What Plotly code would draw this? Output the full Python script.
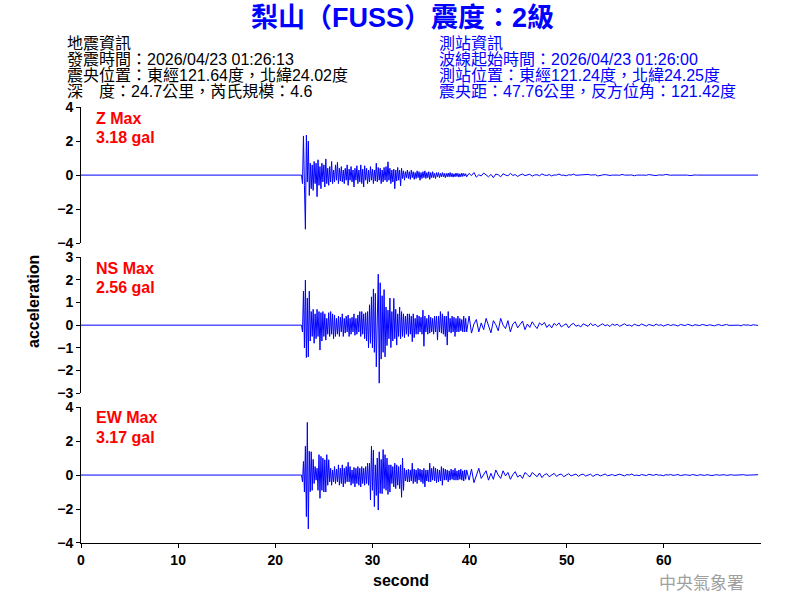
import plotly.graph_objects as go

# ---------------- data ----------------
pre_event_t = [0.0, 22.7]      # s, quiet record before the P arrival
pre_event_v = [0.0, 0.0]
onset_time = 22.8              # s, first sample of the strong part
strong_dt = 0.1                # s
tail_dt = 0.25                 # s
x_end = 70

z_strong = [
    -0.5, 2.3, -0.6, -3.18, 2.35, -0.4, 2.0, -1.2, 0.7, -0.8,
    0.6, -0.9, 0.8, -0.5, 0.7, -1.27, 0.9, -0.6, 0.5, -0.8,
    0.7, -0.4, 0.6, -0.7, 0.95, -0.5, 0.4, -0.6, 0.5, -0.4,
    0.8, -0.5, 0.3, -0.4, 0.6, -0.3, 0.75, -0.5, 0.4, -0.35,
    0.5, -0.4, 0.3, -0.5, 0.4, -0.3, 0.6, -0.6, 0.35, -0.3,
    0.5, -0.4, 0.3, -0.7, 0.4, -0.3, 0.55, -0.5, 0.3, -0.4,
    0.6, -0.5, 0.35, -0.7, 0.55, -0.3, 0.4, -0.5, 0.3, -0.4,
    0.5, -0.3, 0.35, -0.5, 0.3, -0.35, 0.7, -0.4, 0.45, -0.3,
    0.4, -0.5, 0.3, -0.4, 0.45, -0.3, 0.5, -0.4, 0.78, -0.3,
    0.4, -0.5, 0.3, -0.4, 0.35, -0.8, 0.3, -0.35, 0.45, -0.3,
    0.3, -0.63, 0.4, -0.2, 0.25, -0.3, 0.2, -0.15, 0.3, -0.2,
    0.2, -0.25, 0.3, -0.15, 0.2, -0.25, 0.15, -0.2, 0.25, -0.15,
    0.2, -0.3, 0.15, -0.2, 0.2, -0.15, 0.25, -0.2, 0.15, -0.15,
    0.2, -0.25, 0.15, -0.15, 0.2, -0.15, 0.1, -0.2, 0.15, -0.1,
    0.15, -0.15, 0.1, -0.1, 0.15, -0.1, 0.1, -0.15, 0.1, -0.1,
    0.12, -0.1, 0.15, -0.1, 0.1, -0.12, 0.08, -0.1, 0.12, -0.08,
    0.1, -0.12, 0.08, -0.1, 0.12, -0.08, 0.1, -0.06, 0.08, -0.1,
]
z_tail = [
    0.1, -0.03, 0.15, -0.12, 0.02, -0.05, 0.12, 0.0, -0.1, 0.04, -0.15, 0.06,
    0.02, -0.1, 0.08, 0.0, -0.04, 0.1, -0.02, 0.03, -0.08, 0.01, 0.06, -0.03,
    0.0, 0.05, -0.06, 0.01, 0.02, -0.04, 0.07, 0.0, -0.02, 0.03, -0.05, 0.01,
    0.0, 0.06, -0.01, 0.0, -0.04, 0.02, 0.0, 0.05, -0.01, 0.0, -0.03, 0.01,
    0.0, 0.04, 0.0, -0.01, 0.02, -0.05, 0.0, 0.01, 0.03, 0.0, -0.02, 0.0,
    0.02, 0.0, -0.01, 0.04, 0.0, -0.02, 0.0, 0.01, -0.04, 0.0, 0.02, 0.0,
    0.0, -0.01, 0.03, 0.0, 0.0, -0.03, 0.01, 0.0, 0.0, 0.04, 0.0, -0.01,
    0.0, 0.0, 0.02, 0.0, -0.01, 0.0, 0.0, -0.03, 0.0, 0.01, 0.0, 0.0,
    0.0, 0.01, 0.0, 0.0, -0.01, 0.0, 0.0, 0.0, 0.02, 0.0, 0.0, -0.01,
    0.0, 0.0, 0.0, 0.01, 0.0, 0.0, -0.01, 0.0, 0.0, 0.0, 0.0, 0.0,
]

ns_strong = [
    -0.3, 1.5, -1.0, 1.99, -1.43, 1.2, -1.4, 1.5, -0.7, 0.6,
    -0.5, 0.7, -0.8, 0.5, -0.6, 0.7, -0.5, 0.6, -1.1, 0.55,
    -0.7, 0.6, -0.5, 0.5, -0.66, 0.3, -0.4, 0.55, -0.5, 0.6,
    -0.4, 0.5, -0.6, 0.45, -0.5, 0.3, -0.4, 0.4, -0.5, 0.35,
    -0.3, 0.5, -0.5, 0.3, -0.35, 0.4, -0.3, 0.45, -0.5, 0.3,
    -0.4, 0.35, -0.3, 0.5, -0.45, 0.3, -0.4, 0.45, -0.3, 0.6,
    -0.5, 0.6, -0.4, 0.5, -0.6, 0.55, -0.7, 0.6, -1.0, 0.9,
    -0.8, 1.25, -1.0, 1.6, -1.2, 1.4, -1.84, 1.5, 2.25, -2.56,
    1.87, -1.5, 1.3, -1.2, 1.57, -1.4, 0.8, -0.9, 0.66, -0.6,
    1.2, -0.99, 0.6, -0.7, 1.18, -0.6, 0.7, -0.88, 0.5, -0.5,
    0.8, -0.6, 0.6, -0.5, 0.5, -0.55, 0.4, -0.4, 0.5, -0.5,
    0.5, -0.4, 0.4, -0.73, 0.5, -0.55, 0.3, -0.4, 0.45, -0.4,
    0.4, -0.3, 0.35, -0.4, 0.66, -0.93, 0.4, -0.3, 0.3, -0.4,
    0.45, -0.35, 0.35, -0.3, 0.3, -0.4, 0.4, -0.3, 0.4, -0.66,
    0.4, -0.3, 0.6, -0.35, 0.5, -0.4, 0.4, -0.5, 0.4, -0.88,
    0.6, -0.3, 0.3, -0.35, 0.4, -0.3, 0.35, -0.5, 0.3, -0.3,
    0.4, -0.3, 0.3, -0.25, 0.25, -0.3, 0.4, -0.3, 0.3, -0.3,
]
ns_tail = [
    0.4, -0.35, 0.05, 0.25, -0.3, 0.1, -0.2, 0.3, -0.05, -0.34, 0.2, 0.02,
    -0.25, 0.3, 0.0, -0.15, 0.2, -0.3, 0.05, 0.15, -0.12, 0.02, 0.18, -0.2,
    0.05, -0.1, 0.15, -0.02, -0.15, 0.1, 0.0, 0.12, -0.1, 0.03, -0.12, 0.08,
    -0.02, 0.1, -0.08, 0.0, 0.06, -0.12, 0.02, 0.08, -0.05, 0.0, -0.08, 0.06,
    0.0, -0.05, 0.08, -0.02, 0.04, -0.07, 0.0, 0.06, -0.03, 0.02, -0.06, 0.05,
    -0.01, 0.04, -0.05, 0.0, 0.06, -0.02, 0.01, -0.05, 0.04, 0.0, -0.03, 0.05,
    0.0, -0.04, 0.03, 0.0, -0.03, 0.05, -0.01, 0.02, -0.04, 0.0, 0.03, -0.02,
    0.02, 0.0, -0.04, 0.03, 0.0, -0.02, 0.04, 0.0, -0.03, 0.02, 0.0, -0.02,
    0.03, 0.0, -0.02, 0.02, 0.0, -0.03, 0.01, 0.02, -0.02, 0.0, 0.03, -0.01,
    0.0, -0.02, 0.02, 0.0, -0.03, 0.02, 0.0, 0.01, -0.02, 0.02, 0.0, -0.01,
]

ew_strong = [
    -0.4, 0.8, -1.0, 1.7, -2.45, 3.1, -3.17, 1.4, -0.98, 1.37,
    -0.9, 0.92, -0.5, 0.5, -0.3, 0.4, -0.9, 1.2, -1.37, 1.1,
    -0.9, 1.0, -1.0, 0.9, -1.0, 1.2, -0.6, 0.9, -0.4, 0.4,
    -0.6, 0.3, -0.4, 0.5, -0.5, 0.35, -0.4, 0.6, -0.6, 0.4,
    -0.5, 0.6, -0.7, 0.4, -0.5, 0.5, -0.4, 0.75, -0.4, 0.5,
    -0.6, 0.3, -0.5, 0.45, -0.7, 0.4, -0.5, 0.5, -0.6, 0.4,
    -0.7, 0.5, -0.5, 0.4, -0.6, 0.5, -0.5, 0.7, -0.6, 0.7,
    -1.47, 1.7, -0.9, 1.47, -1.86, 0.6, -1.2, 1.0, -2.06, 1.37,
    -1.08, 0.92, -1.1, 1.5, -0.8, 1.2, -0.9, 1.0, -1.14, 0.6,
    -1.0, 0.6, -0.5, 0.5, -0.7, 0.7, -0.8, 0.6, -0.6, 0.5,
    -0.8, 0.6, -1.31, 1.0, -0.9, 0.4, -0.35, 0.3, -0.4, 0.35,
    -0.4, 0.3, -0.35, 0.7, -0.5, 0.35, -0.4, 0.3, -0.5, 0.4,
    -0.3, 0.35, -0.4, 0.3, -0.5, 0.4, -0.7, 0.3, -0.35, 0.3,
    -0.4, 0.7, -0.4, 0.4, -0.3, 0.5, -0.35, 0.4, -0.45, 0.35,
    -0.4, 0.3, -0.35, 0.5, -0.6, 0.4, -0.3, 0.35, -0.3, 0.3,
    -0.4, 0.25, -0.3, 0.35, -0.25, 0.3, -0.3, 0.4, -0.3, 0.25,
    -0.3, 0.3, -0.25, 0.35, -0.3, 0.25, -0.35, 0.3, -0.25, 0.3,
]
ew_tail = [
    -0.3, 0.35, -0.45, 0.05, 0.4, -0.2, 0.0, 0.25, -0.3, 0.1, -0.25, 0.3,
    0.0, -0.2, 0.25, -0.05, 0.15, -0.25, 0.02, 0.2, -0.12, 0.0, -0.2, 0.15,
    0.03, -0.12, 0.15, 0.0, -0.1, 0.12, -0.15, 0.02, 0.08, -0.1, 0.0, 0.1,
    -0.08, 0.02, 0.06, -0.1, 0.0, 0.08, -0.05, 0.0, 0.06, -0.08, 0.02, 0.05,
    -0.06, 0.0, 0.05, -0.08, 0.01, 0.04, -0.05, 0.0, 0.06, -0.04, 0.0, 0.03,
    -0.04, 0.02, 0.05, 0.0, -0.05, 0.03, 0.0, 0.06, -0.03, 0.0, -0.04, 0.03,
    0.0, -0.03, 0.04, 0.0, -0.02, 0.04, -0.01, 0.0, -0.04, 0.02, 0.0, 0.03,
    -0.02, 0.0, 0.03, -0.03, 0.0, 0.02, 0.0, -0.02, 0.03, 0.0, -0.03, 0.02,
    0.0, -0.02, 0.02, 0.0, -0.03, 0.0, 0.02, -0.01, 0.0, 0.02, -0.02, 0.0,
    0.02, -0.01, 0.0, -0.02, 0.0, 0.02, -0.01, 0.0, -0.02, 0.01, 0.0, 0.02,
]

components = ["Z", "NS", "EW"]
max_pga = ["3.18", "2.56", "3.17"]
y_ranges = [(-4, 4), (-3, 3), (-4, 4)]
y_dticks = [2, 1, 2]
x_ticks = [0, 10, 20, 30, 40, 50, 60]

title_text = "梨山（FUSS）震度：2級"
quake_info = ["地震資訊",
              "發震時間：2026/04/23 01:26:13",
              "震央位置：東經121.64度，北緯24.02度",
              "深　度：24.7公里，芮氏規模：4.6"]
station_info = ["測站資訊",
                "波線起始時間：2026/04/23 01:26:00",
                "測站位置：東經121.24度，北緯24.25度",
                "震央距：47.76公里，反方位角：121.42度"]
agency = "中央氣象署"


def series(strong, tail):
    xs = list(pre_event_t)
    ys = list(pre_event_v)
    for i, v in enumerate(strong):
        xs.append(onset_time + i * strong_dt)
        ys.append(v)
    t0 = xs[-1] + tail_dt
    for i, v in enumerate(tail):
        xs.append(t0 + i * tail_dt)
        ys.append(v)
    return xs, ys


traces = [series(z_strong, z_tail), series(ns_strong, ns_tail), series(ew_strong, ew_tail)]

# ---------------- figure ----------------
FONT = "Liberation Sans, Arial, Noto Sans CJK TC"
CJK = "Liberation Sans, Noto Sans CJK TC"
BLUE = "#0000ff"

W, H = 800, 600
ML, MR, MT, MB = 81, 39, 107, 57
PW, PH = W - ML - MR, H - MT - MB

fig = go.Figure()
yaxis_names = ["y", "y2", "y3"]
domains = [[0.6876, 1.0], [0.3438, 0.6555], [0.0, 0.3117]]

for k, (xs, ys) in enumerate(traces):
    fig.add_trace(go.Scatter(x=xs, y=ys, mode="lines", xaxis="x", yaxis=yaxis_names[k],
                             line=dict(color=BLUE, width=1), showlegend=False,
                             hoverinfo="skip"))

layout = dict(
    width=W, height=H,
    margin=dict(l=ML, r=MR, t=MT, b=MB, autoexpand=False),
    paper_bgcolor="white", plot_bgcolor="white",
    showlegend=False,
    xaxis=dict(domain=[0, 1], anchor="y3", range=[0, x_end], tickvals=x_ticks,
               showline=True, linecolor="black", linewidth=1, ticks="outside",
               ticklen=4, tickcolor="black", showgrid=False, zeroline=False,
               tickfont=dict(family=FONT, size=14, color="black", weight="bold")),
)
for k in range(3):
    key = "yaxis" if k == 0 else f"yaxis{k + 1}"
    lo, hi = y_ranges[k]
    layout[key] = dict(domain=domains[k], anchor="x", range=[lo, hi], dtick=y_dticks[k],
                       tick0=0, showline=True, linecolor="black", linewidth=1,
                       ticks="outside", ticklen=4, tickcolor="black", showgrid=False,
                       zeroline=False,
                       tickfont=dict(family=FONT, size=14, color="black", weight="bold"))
fig.update_layout(**layout)


def px(xp, yp):
    """page pixel -> paper coordinates"""
    return (xp - ML) / PW, (H - MB - yp) / PH


annotations = []
xa, ya = px(402, 18)
annotations.append(dict(text="<b>" + title_text + "</b>", x=xa, y=ya, xref="paper", yref="paper",
                        showarrow=False, xanchor="center", yanchor="middle",
                        font=dict(family=CJK, size=27, color=BLUE)))
line_y = [43, 59, 75, 91]
for i, t in enumerate(quake_info):
    xa, ya = px(65, line_y[i])
    annotations.append(dict(text=t, x=xa, y=ya, xref="paper", yref="paper", showarrow=False,
                            xanchor="left", yanchor="middle",
                            font=dict(family=CJK, size=16, color="black")))
for i, t in enumerate(station_info):
    xa, ya = px(437, line_y[i])
    annotations.append(dict(text=t, x=xa, y=ya, xref="paper", yref="paper", showarrow=False,
                            xanchor="left", yanchor="middle",
                            font=dict(family=CJK, size=16, color=BLUE)))
label_y = [(118, 137), (268, 287), (417, 437)]
for k in range(3):
    xa, ya = px(94, label_y[k][0])
    annotations.append(dict(text=f"{components[k]} Max", x=xa, y=ya, xref="paper", yref="paper",
                            showarrow=False, xanchor="left", yanchor="middle",
                            font=dict(family=FONT, size=16, color="#ff0000", weight="bold")))
    xa, ya = px(94, label_y[k][1])
    annotations.append(dict(text=f"{max_pga[k]} gal", x=xa, y=ya, xref="paper", yref="paper",
                            showarrow=False, xanchor="left", yanchor="middle",
                            font=dict(family=FONT, size=16, color="#ff0000", weight="bold")))
xa, ya = px(33, 302)
annotations.append(dict(text="acceleration", x=xa, y=ya, xref="paper", yref="paper",
                        showarrow=False, xanchor="center", yanchor="middle", textangle=-90,
                        font=dict(family=FONT, size=16, color="black", weight="bold")))
xa, ya = px(401, 580)
annotations.append(dict(text="second", x=xa, y=ya, xref="paper", yref="paper",
                        showarrow=False, xanchor="center", yanchor="middle",
                        font=dict(family=FONT, size=16, color="black", weight="bold")))
xa, ya = px(701, 581)
annotations.append(dict(text=agency, x=xa, y=ya, xref="paper", yref="paper",
                        showarrow=False, xanchor="center", yanchor="middle",
                        font=dict(family="Noto Sans CJK TC", size=17, color="#a0a0a0")))
fig.update_layout(annotations=annotations)

# remove the browser's default 8px body margin so the 800x600 figure fills the window
fig.write_html("out.html", config={"displayModeBar": False},
               post_script="document.body.style.margin='0';document.body.style.overflow='hidden';")
